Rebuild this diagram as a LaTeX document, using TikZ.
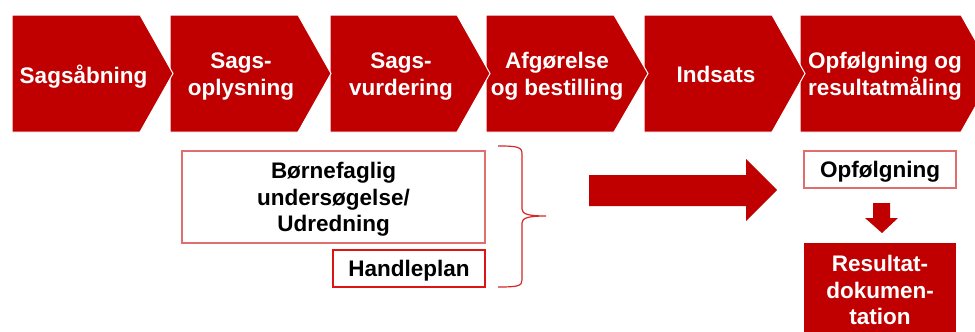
\documentclass[tikz,border=0pt]{standalone}
\usepackage{fontspec}
\setmainfont{Liberation Sans}
\definecolor{cred}{RGB}{192,0,0}
\definecolor{lightboxred}{RGB}{224,110,110}
\definecolor{planred}{RGB}{220,20,20}
\definecolor{bracered}{RGB}{212,40,40}
\tikzset{
  chev/.style={fill=cred, draw=white, line width=1pt},
  chevtext/.style={text=white, font=\bfseries\fontsize{22.5}{26.5}\selectfont, align=center, text depth=0pt, inner sep=0pt},
  boxtext/.style={text=black, font=\bfseries\fontsize{22.5}{26.5}\selectfont, align=center, text depth=0pt, inner sep=0pt},
  outlinebox/.style={rectangle, boxtext, draw=lightboxred, line width=1.2pt},
  planbox/.style={rectangle, boxtext, draw=planred, line width=1.2pt},
  filledbox/.style={fill=cred, rectangle, chevtext},
  bigarrow/.style={fill=cred},
  bracestyle/.style={draw=bracered, line width=1.2pt}
}
\begin{document}
\begin{tikzpicture}[x=1pt,y=-1pt]
\useasboundingbox (0,0) rectangle (975,332);
% chevrons, right to left so each lies over the next
\foreach \l/\s/\t in {800/961/994, 644/772/805, 486/614/648, 330/457/490, 170/298/331, 12/140/173}{
  \path[chev] (\l,15) -- (\s,15) -- (\t,73.5) -- (\s,132) -- (\l,132) -- cycle;
}
\node[chevtext] (c1) at (83.5,74) {Sagsåbning};
\node[chevtext] (c2) at (241,74) {Sags-\\oplysning};
\node[chevtext] (c3) at (401,74) {Sags-\\vurdering};
\node[chevtext] (c4) at (557,74) {Afgørelse\\og bestilling};
\node[chevtext] (c5) at (716,74) {Indsats};
\node[chevtext] (c6) at (885,74) {Opfølgning og\\resultatmåling};
% boxes
\node[outlinebox, minimum width=303pt, minimum height=92pt] (bu) at (333.5,197) {Børnefaglig\\undersøgelse/\\Udredning};
\node[planbox, minimum width=152pt, minimum height=37pt] (hp) at (409,268.5) {Handleplan};
\node[outlinebox, minimum width=152pt, minimum height=37pt] (op) at (880,169.5) {Opfølgning};
\node[filledbox, minimum width=152pt, minimum height=94pt] (rd) at (880,290) {Resultat-\\dokumen-\\tation};
% brace
\path[bracestyle] (498,146) .. controls (518,146) and (522,147) .. (522,154) -- (522,209)
  .. controls (522,214) and (528,216) .. (546,216)
  .. controls (528,216) and (522,218) .. (522,223) -- (522,280)
  .. controls (522,286) and (518,287) .. (498,287);
% big arrow
\path[bigarrow] (589,175) -- (746,175) -- (746,159) -- (777,190) -- (746,221) -- (746,206) -- (589,206) -- cycle;
% small down arrow
\path[bigarrow] (873,203) -- (890,203) -- (890,218) -- (898,218) -- (882,233) -- (865,218) -- (873,218) -- cycle;
\end{tikzpicture}
\end{document}
